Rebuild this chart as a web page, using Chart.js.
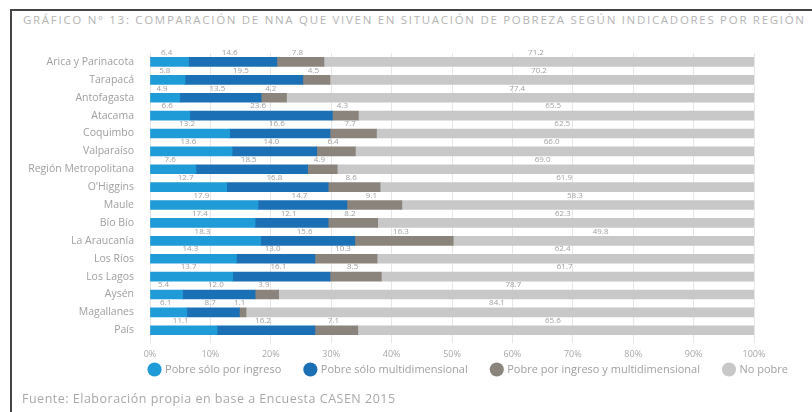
<!DOCTYPE html>
<html lang="es">
<head>
  <meta charset="UTF-8">
  <title>Pobreza NNA por región</title>
  <script src="https://cdn.jsdelivr.net/npm/chart.js"></script>
  <style>
    body {
      margin: 0;
      width: 812px;
      height: 412px;
      background: #fff;
      font-family: "Open Sans", sans-serif;
      position: relative;
      overflow: hidden;
    }
    #frame {
      position: absolute;
      left: 10px;
      top: 9px;
      width: 820px;
      height: 420px;
      border-left: 2px solid #444;
      border-top: 2px solid #444;
    }
    #title {
      position: absolute;
      left: 23px;
      top: 12px;
      font-size: 11.5px;
      letter-spacing: 1.7px;
      color: #b4b4b4;
      white-space: nowrap;
    }
    #footer {
      position: absolute;
      left: 22px;
      top: 390px;
      font-size: 12.5px;
      letter-spacing: 0.5px;
      color: #a8a8a8;
      white-space: nowrap;
    }
    #chart-container {
      position: absolute;
      left: 0;
      top: 30px;
      width: 812px;
      height: 381px;
    }
  </style>
</head>
<body>
  <div id="frame"></div>
  <div id="title">GRÁFICO N° 13: COMPARACIÓN DE NNA QUE VIVEN EN SITUACIÓN DE POBREZA SEGÚN INDICADORES POR REGIÓN</div>
  <div id="chart-container">
    <canvas id="pobrezaChart"></canvas>
  </div>
  <div id="footer">Fuente: Elaboración propia en base a Encuesta CASEN 2015</div>
  <script>
    const regiones = ['Arica y Parinacota', 'Tarapacá', 'Antofagasta', 'Atacama', 'Coquimbo', 'Valparaíso',
      'Región Metropolitana', "O'Higgins", 'Maule', 'Bío Bío', 'La Araucanía', 'Los Ríos', 'Los Lagos',
      'Aysén', 'Magallanes', 'País'];
    const soloIngreso = [6.4, 5.8, 4.9, 6.6, 13.2, 13.6, 7.6, 12.7, 17.9, 17.4, 18.3, 14.3, 13.7, 5.4, 6.1, 11.1];
    const soloMulti = [14.6, 19.5, 13.5, 23.6, 16.6, 14.0, 18.5, 16.8, 14.7, 12.1, 15.6, 13.0, 16.1, 12.0, 8.7, 16.2];
    const ambos = [7.8, 4.5, 4.2, 4.3, 7.7, 6.4, 4.9, 8.6, 9.1, 8.2, 16.3, 10.3, 8.5, 3.9, 1.1, 7.1];
    const noPobre = [71.2, 70.2, 77.4, 65.5, 62.5, 66.0, 69.0, 61.9, 58.3, 62.3, 49.8, 62.4, 61.7, 78.7, 84.1, 65.6];
    const xTicks = [0, 10, 20, 30, 40, 50, 60, 70, 80, 90, 100];

    // valores encima de cada tramo de la barra
    const segmentLabels = {
      id: 'segmentLabels',
      afterDatasetsDraw(chart) {
        const ctx = chart.ctx;
        ctx.save();
        ctx.font = '8px "Open Sans", sans-serif';
        ctx.fillStyle = '#a0a0a0';
        ctx.textAlign = 'center';
        ctx.textBaseline = 'bottom';
        chart.data.datasets.forEach((ds, i) => {
          chart.getDatasetMeta(i).data.forEach((bar, j) => {
            const cx = (bar.x + bar.base) / 2 - 3;
            ctx.fillText(ds.data[j].toFixed(1), cx, bar.y - bar.height / 2 - 1);
          });
        });
        ctx.restore();
      }
    };

    // sube la leyenda para dejarla más cerca del eje
    const legendUp = {
      id: 'legendUp',
      afterLayout(chart) {
        chart.legend.top -= 26;
        chart.legend.bottom -= 26;
      }
    };

    const ctx = document.getElementById('pobrezaChart').getContext('2d');
    new Chart(ctx, {
      type: 'bar',
      data: {
        labels: regiones,
        datasets: [
          { label: 'Pobre sólo por ingreso', data: soloIngreso, backgroundColor: '#1f9bd7' },
          { label: 'Pobre sólo multidimensional', data: soloMulti, backgroundColor: '#1a6fb5' },
          { label: 'Pobre por ingreso y multidimensional', data: ambos, backgroundColor: '#8b847d' },
          { label: 'No pobre', data: noPobre, backgroundColor: '#c9c8c8' }
        ]
      },
      options: {
        indexAxis: 'y',
        responsive: true,
        maintainAspectRatio: false,
        animation: false,
        barThickness: 9,
        layout: { padding: { left: 0, right: 0, top: 23, bottom: 0 } },
        scales: {
          x: {
            stacked: true,
            min: 0,
            max: 100,
            afterBuildTicks: (s) => { s.ticks = xTicks.map(v => ({ value: v })); },
            ticks: {
              color: '#a8a8a8',
              font: { size: 9, family: '"Open Sans", sans-serif' },
              padding: 6,
              callback: (v) => v + '%',
              maxRotation: 0
            },
            grid: { color: '#e6e6e6', tickLength: 4 },
            border: { display: false }
          },
          y: {
            stacked: true,
            ticks: {
              color: '#a0a0a0',
              font: { size: 10.5, family: '"Open Sans", sans-serif' },
              padding: 8
            },
            grid: { display: false },
            border: { display: false },
            afterFit: (s) => { s.width = 150; }
          },
          y2: {
            type: 'linear',
            position: 'right',
            grid: { display: false },
            ticks: { display: false },
            border: { display: false },
            afterFit: (s) => { s.width = 58; }
          }
        },
        plugins: {
          legend: {
            position: 'bottom',
            align: 'end',
            labels: {
              usePointStyle: true,
              pointStyle: 'circle',
              boxWidth: 10,
              boxHeight: 10,
              padding: 24,
              color: '#a0a0a0',
              font: { size: 11, family: '"Open Sans", sans-serif' }
            }
          },
          tooltip: { enabled: false }
        }
      },
      plugins: [segmentLabels, legendUp]
    });
  </script>
</body>
</html>
